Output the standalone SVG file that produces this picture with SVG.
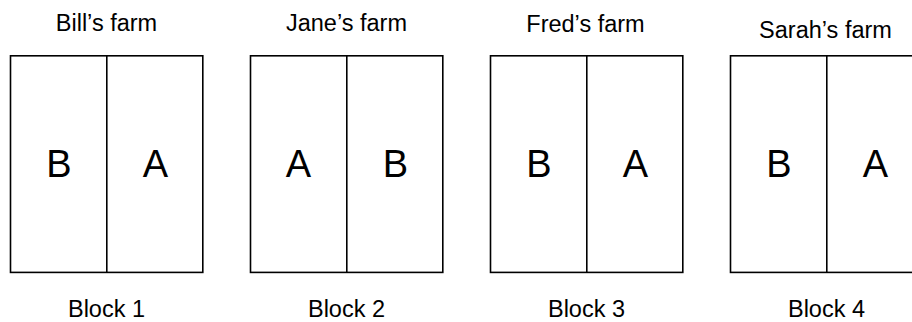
<svg xmlns="http://www.w3.org/2000/svg" width="912" height="322" viewBox="0 0 912 322">
  <style>
    .plot { fill: #ffffff; stroke: #000000; stroke-width: 1.6; }
    .split { stroke: #000000; stroke-width: 1.6; fill: none; }
    .title { font-family: "Liberation Sans", Arial, sans-serif; font-size: 23.5px; fill: #000000; text-anchor: middle; }
    .trt { font-family: "Liberation Sans", Arial, sans-serif; font-size: 38px; fill: #000000; text-anchor: middle; }
  </style>
  <rect x="0" y="0" width="912" height="322" fill="#ffffff"/>

  <!-- Block 1: Bill's farm -->
  <g id="block1">
    <text class="title" x="106.5" y="31">Bill’s farm</text>
    <rect class="plot" x="10.5" y="55.8" width="192.3" height="216.6"/>
    <line class="split" x1="106.8" y1="55.8" x2="106.8" y2="272.4"/>
    <text class="trt" x="59" y="177">B</text>
    <text class="trt" x="155.5" y="177">A</text>
    <text class="title" x="106.5" y="316.5">Block 1</text>
  </g>

  <!-- Block 2: Jane's farm -->
  <g id="block2">
    <text class="title" x="346.5" y="31">Jane’s farm</text>
    <rect class="plot" x="250.5" y="55.8" width="192.3" height="216.6"/>
    <line class="split" x1="346.8" y1="55.8" x2="346.8" y2="272.4"/>
    <text class="trt" x="298.5" y="177">A</text>
    <text class="trt" x="395.5" y="177">B</text>
    <text class="title" x="346.5" y="316.5">Block 2</text>
  </g>

  <!-- Block 3: Fred's farm -->
  <g id="block3">
    <text class="title" x="585.5" y="31.5">Fred’s farm</text>
    <rect class="plot" x="490.5" y="55.8" width="192.3" height="216.6"/>
    <line class="split" x1="586.8" y1="55.8" x2="586.8" y2="272.4"/>
    <text class="trt" x="539" y="177">B</text>
    <text class="trt" x="635.5" y="177">A</text>
    <text class="title" x="586.5" y="316.5">Block 3</text>
  </g>

  <!-- Block 4: Sarah's farm (runs past the right edge) -->
  <g id="block4">
    <text class="title" x="825.5" y="37.5">Sarah’s farm</text>
    <rect class="plot" x="730.5" y="55.8" width="192.3" height="216.6"/>
    <line class="split" x1="826.8" y1="55.8" x2="826.8" y2="272.4"/>
    <text class="trt" x="779" y="177">B</text>
    <text class="trt" x="875.5" y="177">A</text>
    <text class="title" x="826.5" y="316.5">Block 4</text>
  </g>

  <g id="connectors"/>
</svg>
